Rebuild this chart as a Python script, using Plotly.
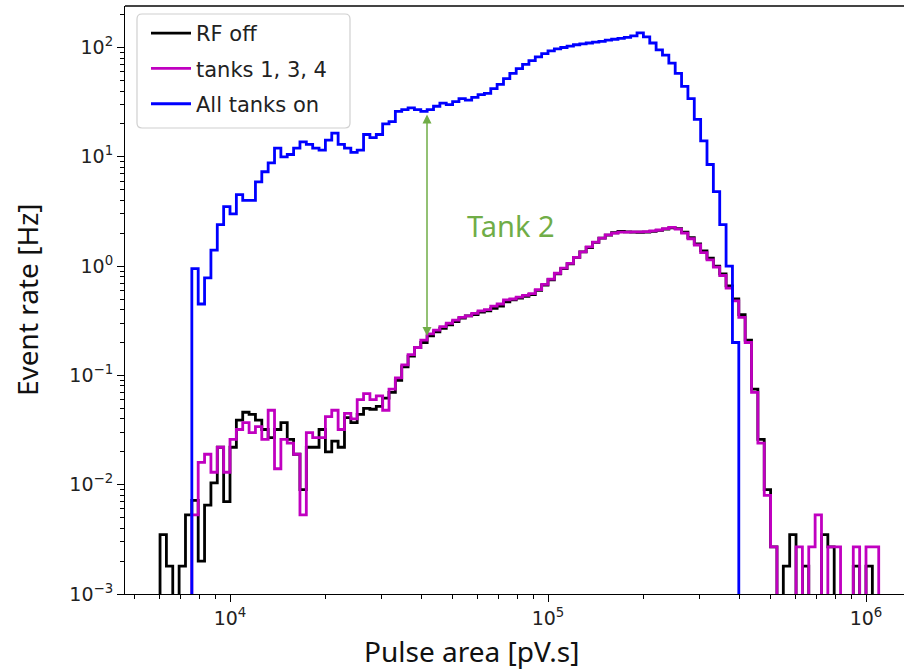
import numpy as np
import plotly.graph_objects as go

# ---- histogram binning (log-spaced bins) ----
LOG_START = 3.76
LOG_STEP = 0.02

# ---- series values (event rate in Hz per bin) ----
rf_off = [0, 0.0035, 0.0018, 0, 0.0018, 0.0053, 0.0072, 0.002, 0.0065, 0.0104,
          0.022, 0.007, 0.022, 0.039, 0.046, 0.044, 0.039, 0.032, 0.027, 0.032,
          0.037, 0.026, 0.019, 0.009, 0.022, 0.022, 0.032, 0.020, 0.025, 0.022,
          0.041, 0.037, 0.044, 0.050, 0.049, 0.052, 0.062, 0.070, 0.09, 0.12,
          0.15, 0.18, 0.20, 0.23, 0.25, 0.27, 0.29, 0.31, 0.335, 0.35,
          0.36, 0.38, 0.39, 0.41, 0.43, 0.47, 0.49, 0.51, 0.53, 0.55,
          0.60, 0.67, 0.75, 0.85, 0.95, 1.05, 1.2, 1.35, 1.48, 1.65,
          1.8, 1.92, 2.02, 2.08, 2.06, 2.05, 2.04, 2.05, 2.08, 2.12,
          2.18, 2.24, 2.2, 2.05, 1.82, 1.6, 1.38, 1.18, 1.0, 0.85,
          0.66, 0.5, 0.36, 0.21, 0.075, 0.026, 0.009, 0.0027, 0, 0.0018,
          0.0035, 0, 0.0018, 0, 0, 0.0035, 0.0027, 0, 0, 0,
          0.0018, 0, 0.0018, 0]

tanks_134 = [0, 0, 0, 0, 0, 0, 0.0053, 0.016, 0.019, 0.013,
             0.022, 0.013, 0.026, 0.032, 0.037, 0.030, 0.034, 0.026, 0.048, 0.014,
             0.026, 0.024, 0.019, 0.0053, 0.030, 0.027, 0.027, 0.042, 0.048, 0.032,
             0.045, 0.040, 0.060, 0.068, 0.060, 0.065, 0.048, 0.075, 0.095, 0.125,
             0.155, 0.18, 0.21, 0.24, 0.26, 0.28, 0.30, 0.32, 0.34, 0.35,
             0.37, 0.39, 0.40, 0.43, 0.45, 0.49, 0.50, 0.52, 0.54, 0.56,
             0.61, 0.68, 0.76, 0.86, 0.96, 1.06, 1.2, 1.35, 1.5, 1.66,
             1.8, 1.93, 2.0, 2.05, 2.05, 2.06, 2.06, 2.07, 2.1, 2.14,
             2.2, 2.26, 2.18, 2.0, 1.78, 1.56, 1.33, 1.14, 0.98, 0.82,
             0.63, 0.48, 0.34, 0.2, 0.07, 0.024, 0.008, 0.0027, 0, 0,
             0, 0.0027, 0, 0.0027, 0.0053, 0, 0.0027, 0.0027, 0, 0,
             0.0027, 0, 0.0027, 0.0027]

all_on = [0, 0, 0, 0, 0, 0, 0.95, 0.45, 0.78, 1.4,
          2.4, 3.5, 3.0, 4.5, 4.0, 4.0, 5.9, 7.3, 8.8, 12,
          10, 10.5, 12, 13.7, 13, 12, 11.5, 14.2, 16.5, 13,
          12, 11, 11.5, 16, 15, 16, 20, 21, 26, 27,
          28, 27, 26, 27, 29, 31, 30, 32, 34, 33,
          35, 37, 38, 42, 46, 52, 58, 64, 70, 76,
          82, 88, 93, 97, 100, 103, 106, 108, 110, 112,
          114, 117, 119, 121, 124, 128, 136, 125, 110, 95,
          85, 72, 58, 44, 34, 22, 14, 8.5, 4.8, 2.4,
          1.0, 0.2, 0, 0, 0, 0, 0, 0, 0, 0,
          0, 0, 0, 0, 0, 0, 0, 0, 0, 0,
          0, 0, 0, 0]

series_names = ["RF off", "tanks 1, 3, 4", "All tanks on"]
series_colors = ["#000000", "#C000C0", "#0000FF"]

y_major = [1e-3, 1e-2, 1e-1, 1e0, 1e1, 1e2]
y_major_text = ["10<sup>\u22123</sup>", "10<sup>\u22122</sup>", "10<sup>\u22121</sup>",
                "10<sup>0</sup>", "10<sup>1</sup>", "10<sup>2</sup>"]
x_major = [1e4, 1e5, 1e6]
x_major_text = ["10<sup>4</sup>", "10<sup>5</sup>", "10<sup>6</sup>"]

n_bins = len(rf_off)
edges = 10 ** (LOG_START + LOG_STEP * np.arange(n_bins + 1))
FLOOR = 1e-7  # empty bins fall below the axis (clipped), like matplotlib


def step_xy(vals):
    v = [x if x > 0 else FLOOR for x in vals]
    xs = [edges[0]] + list(edges[:-1]) + [edges[-1], edges[-1]]
    ys = [FLOOR] + v + [v[-1], FLOOR]
    return xs, ys


fig = go.Figure()
for vals, name, col in zip([rf_off, tanks_134, all_on], series_names, series_colors):
    xs, ys = step_xy(vals)
    fig.add_trace(go.Scatter(x=xs, y=ys, mode="lines", name=name, legendgroup=name,
                             line=dict(color=col, width=2.8, shape="hv")))

x_minor = [m * 10 ** e for e in range(3, 7) for m in range(2, 10)]
y_minor = [m * 10 ** e for e in range(-3, 3) for m in range(2, 10)]

W, H = 904, 672
L, R, T, B = 125, 0, 6, 78
pw, ph = W - L - R, H - T - B


def px(x):
    return (x - L) / pw


def py(y):
    return (H - B - y) / ph


tick_font = dict(family="DejaVu Sans", size=19, color="#222")
fig.update_layout(
    width=W, height=H,
    margin=dict(l=L, r=R, t=T, b=B),
    paper_bgcolor="white", plot_bgcolor="white",
    showlegend=True,
    legend=dict(x=px(146), y=py(13), xanchor="left", yanchor="top",
                bgcolor="rgba(0,0,0,0)", borderwidth=0,
                font=dict(family="DejaVu Sans", size=21, color="#222"),
                tracegroupgap=5, itemwidth=40),
    xaxis=dict(type="log", range=[3.6698, 6.1195], showgrid=False, zeroline=False,
               showline=True, linecolor="#000", linewidth=1.2,
               tickmode="array", tickvals=x_major, ticktext=x_major_text,
               ticks="outside", ticklen=7, tickwidth=1.2, tickcolor="#000",
               tickfont=tick_font,
               minor=dict(tickmode="array", tickvals=x_minor, ticks="outside",
                          ticklen=4, tickwidth=1, tickcolor="#000", showgrid=False)),
    yaxis=dict(type="log", range=[-3, 2.3797], showgrid=False, zeroline=False,
               showline=True, linecolor="#000", linewidth=1.2,
               tickmode="array", tickvals=y_major, ticktext=y_major_text,
               ticks="outside", ticklen=7, tickwidth=1.2, tickcolor="#000",
               tickfont=tick_font,
               minor=dict(tickmode="array", tickvals=y_minor, ticks="outside",
                          ticklen=4, tickwidth=1, tickcolor="#000", showgrid=False)),
)

# top frame line (right spine lies outside the picture)
fig.add_shape(type="line", xref="paper", yref="paper", x0=0, x1=1, y0=1, y1=1,
              line=dict(color="#444", width=2))

# rounded legend frame (matplotlib style)
bx0, bx1, by0, by1, r = 137, 350, 14, 128, 5
fx = lambda v: px(v)
fy = lambda v: py(v)
path = (f"M {fx(bx0 + r)},{fy(by0)} L {fx(bx1 - r)},{fy(by0)} "
        f"Q {fx(bx1)},{fy(by0)} {fx(bx1)},{fy(by0 + r)} "
        f"L {fx(bx1)},{fy(by1 - r)} Q {fx(bx1)},{fy(by1)} {fx(bx1 - r)},{fy(by1)} "
        f"L {fx(bx0 + r)},{fy(by1)} Q {fx(bx0)},{fy(by1)} {fx(bx0)},{fy(by1 - r)} "
        f"L {fx(bx0)},{fy(by0 + r)} Q {fx(bx0)},{fy(by0)} {fx(bx0 + r)},{fy(by0)} Z")
fig.add_shape(type="path", xref="paper", yref="paper", path=path,
              fillcolor="rgba(255,255,255,0.9)", line=dict(color="#d0d0d0", width=1.2),
              layer="above")

title_font = dict(family="Noto Sans", size=28, color="#111")
fig.add_annotation(text="Pulse area [pV.s]", xref="paper", yref="paper",
                   x=px(471), y=py(651), showarrow=False, font=title_font,
                   xanchor="center", yanchor="middle")
fig.add_annotation(text="Event rate [Hz]", xref="paper", yref="paper",
                   x=px(27), y=py(300), showarrow=False, font=title_font,
                   textangle=-90, xanchor="center", yanchor="middle")

green = "#70AD47"
fig.add_annotation(text="Tank 2", xref="paper", yref="paper", x=px(511), y=py(225),
                   showarrow=False, font=dict(family="Noto Sans", size=29, color=green),
                   xanchor="center", yanchor="middle")
fig.add_annotation(text="", xref="paper", yref="paper", x=px(427), y=py(336),
                   ax=0, ay=-(336 - 113), showarrow=True, arrowside="end+start",
                   arrowhead=2, startarrowhead=2, arrowsize=1.2, startarrowsize=1.2,
                   arrowwidth=1.5, arrowcolor=green)

fig.write_html("out.html")
